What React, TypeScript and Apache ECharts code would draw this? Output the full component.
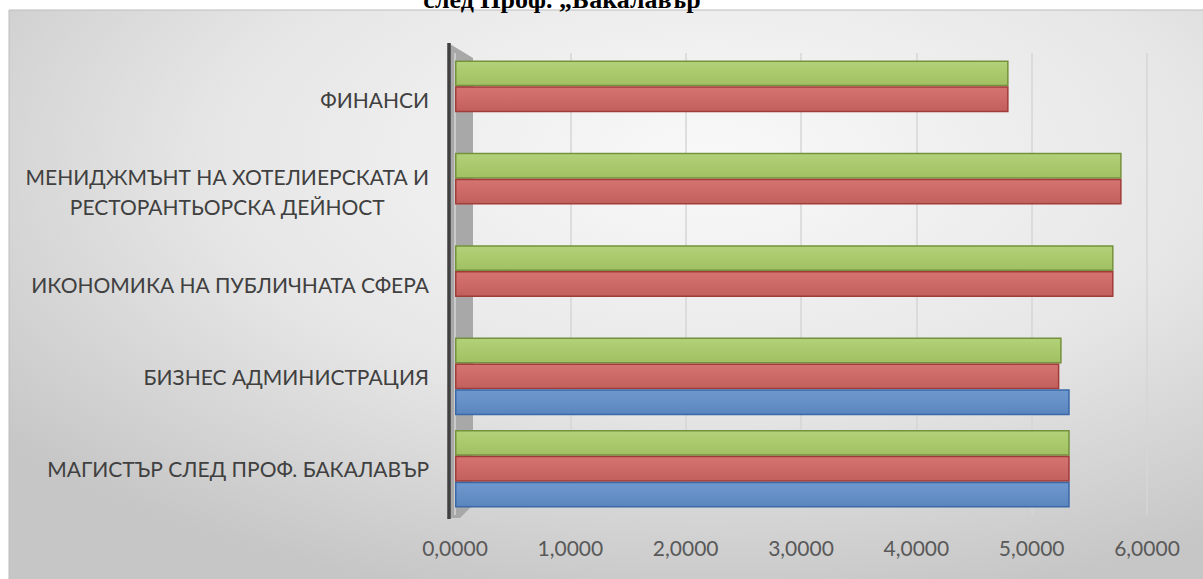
import React, { useEffect, useRef } from 'react';
import * as echarts from 'echarts';

const categories = [
  'МАГИСТЪР СЛЕД ПРОФ. БАКАЛАВЪР',
  'БИЗНЕС АДМИНИСТРАЦИЯ',
  'ИКОНОМИКА НА ПУБЛИЧНАТА СФЕРА',
  'МЕНИДЖМЪНТ НА ХОТЕЛИЕРСКАТА И\nРЕСТОРАНТЬОРСКА ДЕЙНОСТ',
  'ФИНАНСИ',
];
const seriesNames = ['Серия 1', 'Серия 2', 'Серия 3'];
const blueValues = [5.33, 5.33, null, null, null];
const redValues = [5.33, 5.24, 5.71, 5.78, 4.8];
const greenValues = [5.33, 5.26, 5.71, 5.78, 4.8];
const xMin = 0;
const xMax = 6;
const xInterval = 1;
const titleText = 'след Проф. „Бакалавър';

const grad = (top: string, mid: string, bottom: string) =>
  new echarts.graphic.LinearGradient(0, 0, 0, 1, [
    { offset: 0, color: top },
    { offset: 0.5, color: mid },
    { offset: 1, color: bottom },
  ]);

export default function App() {
  const ref = useRef<HTMLDivElement>(null);
  useEffect(() => {
    const chart = echarts.init(ref.current!, null, { renderer: 'svg' });
    const mkSeries = (name: string, data: (number | null)[], fill: any, border: string) => ({
      name,
      type: 'bar',
      data,
      barGap: '0%',
      barCategoryGap: '16%',
      itemStyle: { color: fill, borderColor: border, borderWidth: 1.5 },
      z: 3,
    });
    chart.setOption({
      animation: false,
      graphic: [
        {
          type: 'rect',
          z: -10,
          silent: true,
          shape: { x: 9, y: 10, width: 1210, height: 600 },
          style: {
            fill: new echarts.graphic.RadialGradient(0.58, 0.25, 0.75, [
              { offset: 0, color: '#f9f9f9' },
              { offset: 0.55, color: '#e6e6e6' },
              { offset: 1, color: '#c6c6c6' },
            ]),
            stroke: '#bdbdbd',
            lineWidth: 1,
          },
        },
        {
          type: 'text',
          z: 10,
          silent: true,
          style: {
            text: titleText,
            x: 562,
            y: 12,
            align: 'center',
            verticalAlign: 'bottom',
            font: 'bold 26px "Liberation Serif", "DejaVu Serif", serif',
            fill: '#000',
          },
        },
        {
          type: 'polygon',
          z: -5,
          silent: true,
          shape: { points: [[450, 44], [473, 58], [473, 505], [460, 518], [450, 518]] },
          style: { fill: '#a8a8a8' },
        },
        {
          type: 'line',
          z: 5,
          silent: true,
          shape: { x1: 449, y1: 43, x2: 449, y2: 519 },
          style: { stroke: '#404040', lineWidth: 3.5 },
        },
      ],
      grid: { left: 455, right: 56, top: 53, bottom: 64, containLabel: false },
      xAxis: {
        type: 'value',
        min: xMin,
        max: xMax,
        interval: xInterval,
        axisLine: { show: false },
        axisTick: { show: false },
        splitLine: { show: true, lineStyle: { color: '#d6d6d6', width: 1.5 } },
        axisLabel: {
          margin: 22,
          color: '#595959',
          fontSize: 21,
          fontFamily: 'Lato',
          formatter: (v: number) => v.toFixed(4).replace('.', ','),
        },
      },
      yAxis: {
        type: 'category',
        data: categories,
        axisLine: { show: false },
        axisTick: { show: false },
        splitLine: { show: false },
        axisLabel: {
          margin: 26,
          color: '#404040',
          fontSize: 21,
          fontFamily: 'Lato',
          lineHeight: 30,
          formatter: (v: string) =>
            v.includes('\n') ? v.split('\n').map((l) => `{c|${l}}`).join('\n') : v,
          rich: { c: { align: 'center', fontSize: 21, fontFamily: 'Lato', color: '#404040', lineHeight: 30 } },
        },
      },
      series: [
        mkSeries(seriesNames[2], greenValues, grad('#b3d179', '#aac96c', '#a0c063'), '#74923b'),
        mkSeries(seriesNames[1], redValues, grad('#d47470', '#cc6a67', '#c0605d'), '#a13c39'),
        mkSeries(seriesNames[0], blueValues, grad('#6f98cd', '#6590c7', '#5a84bd'), '#3b68a8'),
      ],
    });
    return () => chart.dispose();
  }, []);
  return (
    <div
      ref={ref}
      style={{ position: 'absolute', left: 0, top: 0, width: 1203, height: 579 }}
    />
  );
}
